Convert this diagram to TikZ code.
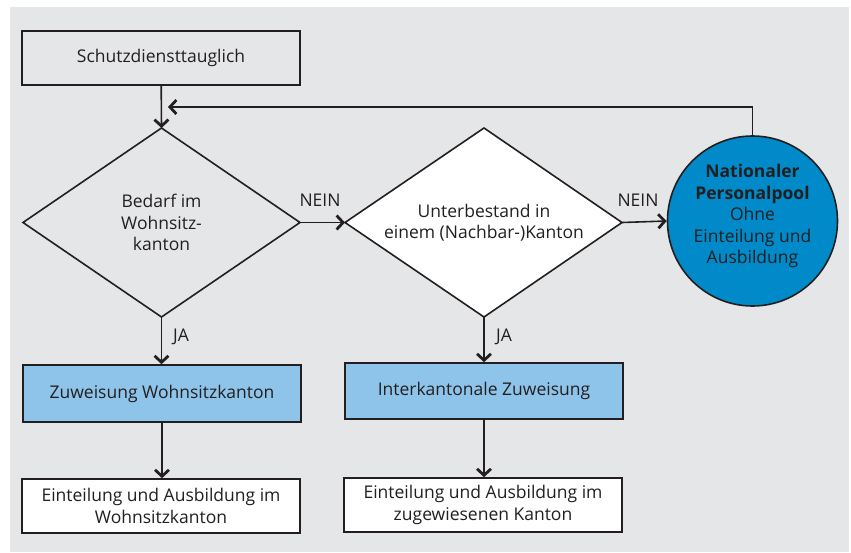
\documentclass[tikz,border=0pt]{standalone}
\usepackage{fontspec}
\setmainfont{Open Sans}
\usetikzlibrary{shapes.geometric,arrows.meta}
\definecolor{bggrey}{HTML}{E5E6E8}
\definecolor{poolblue}{HTML}{008AC9}
\definecolor{lightblue}{HTML}{8EC4EA}
\definecolor{ink}{HTML}{231F20}
\tikzset{
  basefont/.style={font=\fontsize{17.5}{21.5}\selectfont, text=ink},
  boxnode/.style={basefont, draw=ink, line width=1.6pt, rectangle, minimum width=278pt, minimum height=55pt, inner sep=0pt, align=center},
  diaoutline/.style={draw=ink, line width=1.6pt, line join=miter},
  conn/.style={draw=ink, line width=1.6pt, -{Straight Barb[length=6.5pt,width=14pt,line width=2.8pt]}},
  plain/.style={draw=ink, line width=1.6pt},
  lbl/.style={basefont, inner sep=0pt}
}
\begin{document}
\begin{tikzpicture}[x=1pt,y=-1pt]
\useasboundingbox (0,0) rectangle (851,552);
\fill[bggrey] (10,7) rectangle (849,552);

\node[boxnode, fill=bggrey, minimum height=54pt] (start) at (161,58) {Schutzdiensttauglich};

% decision 1
\coordinate (d1n) at (161.5,128);
\coordinate (d1s) at (161.5,317);
\coordinate (d1w) at (23,222.5);
\coordinate (d1e) at (300,222.5);
\filldraw[diaoutline, fill=bggrey] (d1n) -- (d1e) -- (d1s) -- (d1w) -- cycle;
\node[basefont, align=center, inner sep=0pt] (d1) at (161.5,222.5) {Bedarf im\\Wohnsitz-\\kanton};

% decision 2
\coordinate (d2n) at (484,128);
\coordinate (d2s) at (484,317);
\coordinate (d2w) at (345,222.5);
\coordinate (d2e) at (622,222.5);
\filldraw[diaoutline, fill=white] (d2n) -- (d2e) -- (d2s) -- (d2w) -- cycle;
\node[basefont, align=center, inner sep=0pt] (d2) at (484,222.5) {Unterbestand in\\einem (Nachbar-)Kanton};

% pool
\node[circle, draw=ink, line width=1.6pt, fill=poolblue, minimum size=170pt, inner sep=0pt] (pool) at (752.5,221) {};
\node[basefont, align=center, inner sep=0pt] (pooltext) at (752.5,216) {\textbf{Nationaler}\\\textbf{Personalpool}\\Ohne\\Einteilung und\\Ausbildung};

\node[boxnode, fill=lightblue, minimum height=57pt] (z1) at (162,393.5) {Zuweisung Wohnsitzkanton};
\node[boxnode, fill=lightblue, minimum height=56pt] (z2) at (484,391) {Interkantonale Zuweisung};
\node[boxnode, fill=white, minimum height=54pt] (e1) at (161,506) {Einteilung und Ausbildung im\\Wohnsitzkanton};
\node[boxnode, fill=white, minimum height=54pt] (e2) at (483,505) {Einteilung und Ausbildung im\\zugewiesenen Kanton};

\coordinate (fbtop) at (pool.north |- 0,107);
\coordinate (fbend) at (168,107);

\draw[conn] (start) -- (d1n);
\draw[plain] (pool.north) -- (fbtop);
\draw[conn] (fbtop) -- (fbend);
\draw[conn] (d1e) -- (d2w);
\draw[conn] (d2e) -- (pool.west);
\draw[conn] (d1s) -- (d1s |- z1.north);
\draw[conn] (d2s) -- (d2s |- z2.north);
\draw[conn] (z1) -- (z1.south |- e1.north);
\draw[conn] (z2) -- (z2.south |- e2.north);

\node[lbl] (n1) at (320,200) {NEIN};
\node[lbl] (n2) at (638,200) {NEIN};
\node[lbl] (j1) at (181,337) {JA};
\node[lbl] (j2) at (504,337) {JA};
\end{tikzpicture}
\end{document}
